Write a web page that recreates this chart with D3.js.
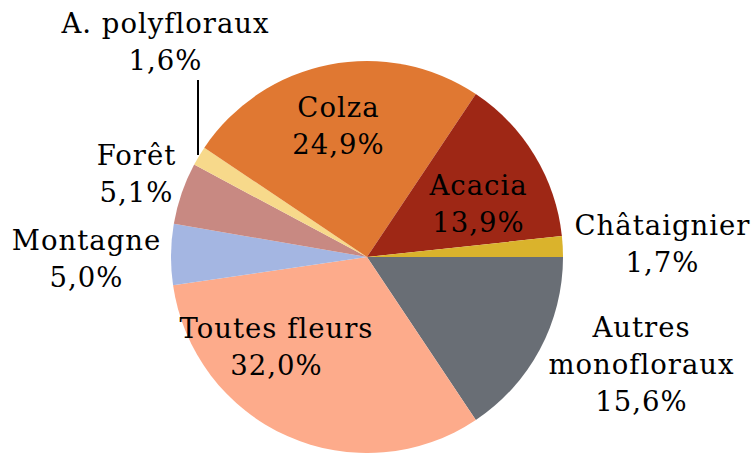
<!DOCTYPE html>
<html><head><meta charset="utf-8">
<script src="https://cdn.jsdelivr.net/npm/d3@7"></script>
<style>html,body{margin:0;padding:0;background:#fff;}</style>
</head><body>
<svg id="chart" width="754" height="453"></svg>
<script>
const categories = ["Autres monofloraux","Toutes fleurs","Montagne","Forêt","A. polyfloraux","Colza","Acacia","Châtaignier"];
const values = [15.6, 32.0, 5.0, 5.1, 1.6, 24.9, 13.9, 1.7];
const valueLabels = ["15,6%","32,0%","5,0%","5,1%","1,6%","24,9%","13,9%","1,7%"];
const labelLines = [["Autres","monofloraux"],["Toutes fleurs"],["Montagne"],["Forêt"],["A. polyfloraux"],["Colza"],["Acacia"],["Châtaignier"]];
const colors = ["#696e75","#fdab8b","#a4b6e2","#c88982","#f7d98b","#e07832","#9e2715","#dab32c"];

// label layout (text centre x, first baseline y)
const labelPos = [[641,337],[276,338],[86,250],[136,165],[165,33],[338,117],[478,195],[662,235]];

const W = 754, H = 453, cx = 367, cy = 257, R = 196, lh = 37;
const svg = d3.select("#chart");
const pie = d3.pie().sort(null).value(d => d).startAngle(Math.PI/2).endAngle(Math.PI/2 + 2*Math.PI);
const arc = d3.arc().innerRadius(0).outerRadius(R);
const g = svg.append("g").attr("transform", `translate(${cx},${cy})`);
g.selectAll("path").data(pie(values)).join("path")
  .attr("d", arc).attr("fill", (d,i) => colors[i]);

// leader line for A. polyfloraux
svg.append("line").attr("x1",198).attr("y1",80).attr("x2",198).attr("y2",155)
  .attr("stroke","#000").attr("stroke-width",2);

const font = "'DejaVu Serif', serif";
categories.forEach((c,i) => {
  const [x,y] = labelPos[i];
  const lines = labelLines[i].concat([valueLabels[i]]);
  const t = svg.append("text").attr("text-anchor","middle")
    .attr("font-family", font).attr("font-size", 27.5).attr("letter-spacing", 1).attr("fill","#000");
  lines.forEach((l,k) => t.append("tspan").attr("x", x + 0.5).attr("y", y + k*lh).text(l));
});
</script>
</body></html>
